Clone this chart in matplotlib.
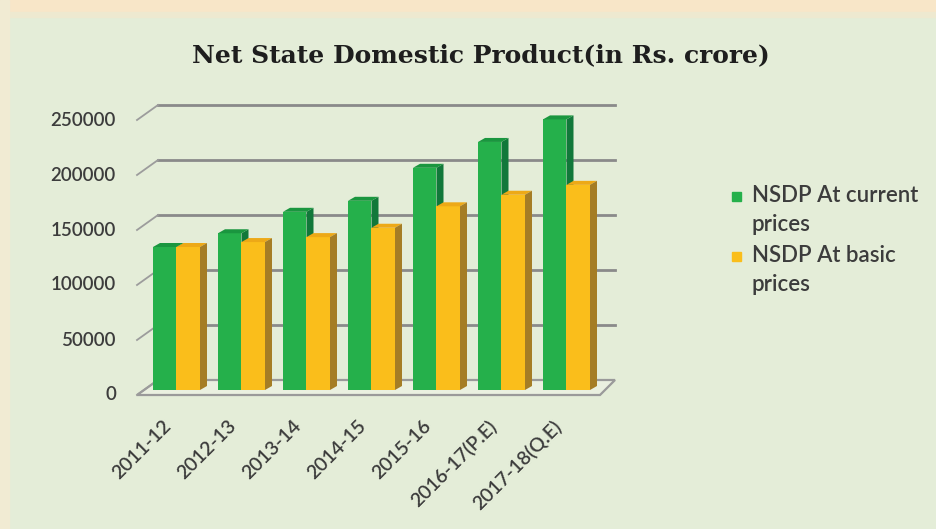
import numpy as np
import matplotlib.pyplot as plt
from matplotlib.patches import Polygon, Rectangle

years = ['2011-12', '2012-13', '2013-14', '2014-15', '2015-16',
         '2016-17(P.E)', '2017-18(Q.E)']
current = [130000, 142500, 162000, 172000, 202000, 225500, 246000]
basic = [130000, 134500, 139000, 147500, 167000, 177500, 186500]
ticks = [0, 50000, 100000, 150000, 200000, 250000]

W, H = 937, 529
fig = plt.figure(figsize=(W / 100, H / 100), dpi=100)
fig.patch.set_facecolor('#e4edd8')

# light peach border along the top and left edge
fig.patches.append(Rectangle((0, 1 - 12 / H), 1, 12 / H, transform=fig.transFigure,
                             color='#f8e6c8', zorder=0))
fig.patches.append(Rectangle((0, 1 - 17 / H), 1, 5 / H, transform=fig.transFigure,
                             color='#eee9d0', zorder=0))
fig.patches.append(Rectangle((0, 0), 9 / W, 1, transform=fig.transFigure,
                             color='#f1ebd3', zorder=0))

# drawing units: one year per 65 px, 50000 per 55 px
sx = 1 / 65
sy = 50000 / 55
x0px, y0px = 176.5, 390


def ux(px):
    return (px - x0px) * sx


def uy(py):
    return (y0px - py) * sy


ax = fig.add_axes([120 / W, 1 - 400 / H, 510 / W, 310 / H])
ax.set_xlim(ux(120), ux(630))
ax.set_ylim(uy(400), uy(90))
ax.axis('off')

# floor and walls of the 3-D box
front_l, front_r = ux(137), ux(600)
back_l, back_r = ux(158), ux(615)
fy, by = uy(395), uy(380)
ax.add_patch(Polygon([(front_l, fy), (front_r, fy), (back_r, by), (back_l, by)],
                     closed=True, fc='#eaf0e0', ec='#9a9a9a', lw=1.6, zorder=1))
for t in ticks:
    if t > 0:
        ax.plot([back_l, back_r], [by + t, by + t], color='#8a8a8a', lw=2, zorder=1)
    ax.plot([front_l, back_l], [fy + t, by + t], color='#9c9c9c', lw=1.3, zorder=1)
    ax.text(ux(116), fy + t, str(t), ha='right', va='center', fontsize=13.5,
            family='Lato', weight='semibold', color='#3c3c3c')

# bars with side and top faces
w = 23.5 * sx
dxb, dyb = 7 * sx, 4 * sy
for i, (g, b) in enumerate(zip(current, basic)):
    z = 2 + i
    ax.add_patch(Polygon([(i, 0), (i + dxb, dyb), (i + dxb, g + dyb), (i, g)],
                         closed=True, fc='#11783a', ec='none', zorder=z))
    ax.bar(i - w, g, w, align='edge', color='#25b04b', zorder=z + 0.1)
    ax.add_patch(Polygon([(i - w, g), (i, g), (i + dxb, g + dyb), (i - w + dxb, g + dyb)],
                         closed=True, fc='#1a963f', ec='none', zorder=z + 0.1))
    ax.bar(i, b, w, align='edge', color='#fabe1b', zorder=z + 0.2)
    ax.add_patch(Polygon([(i, b), (i + w, b), (i + w + dxb, b + dyb), (i + dxb, b + dyb)],
                         closed=True, fc='#eda917', ec='none', zorder=z + 0.3))
    ax.add_patch(Polygon([(i + w, 0), (i + w + dxb, dyb), (i + w + dxb, b + dyb), (i + w, b)],
                         closed=True, fc='#a57d25', ec='none', zorder=z + 0.3))
    ax.text(i - 0.22, uy(417), years[i], rotation=45, ha='right', va='top',
            rotation_mode='anchor', fontsize=14, family='Lato', weight='semibold',
            color='#3c3c3c')

fig.text(481 / W, 1 - 55 / H, 'Net State Domestic Product(in Rs. crore)',
         ha='center', va='center', fontsize=18, family='DejaVu Serif',
         weight='bold', color='#1e1e1e')

# legend
for k, (lab, col) in enumerate([('NSDP At current\nprices', '#25b04b'),
                                 ('NSDP At basic\nprices', '#fabe1b')]):
    ytop = 197 + 60 * k
    fig.patches.append(Rectangle((732 / W, 1 - (ytop + 4) / H), 9 / W, 9 / H,
                                 transform=fig.transFigure, color=col))
    fig.text(752 / W, 1 - (ytop - 12) / H, lab, ha='left', va='top', fontsize=16,
             family='Lato', weight='semibold', color='#3c3c3c', linespacing=1.45)

fig.savefig('out.png', dpi=100, facecolor=fig.get_facecolor())
